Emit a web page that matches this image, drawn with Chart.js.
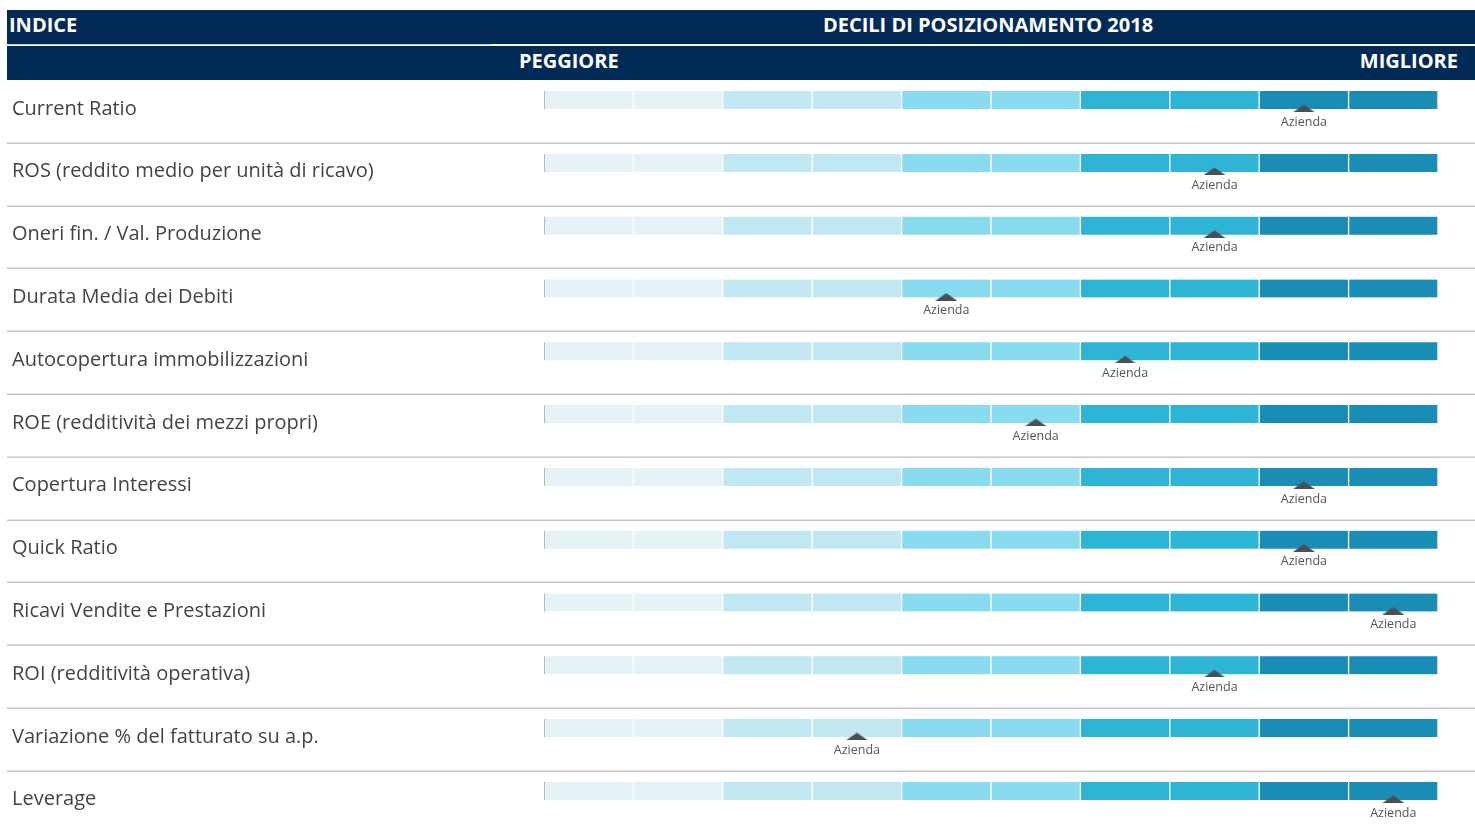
<!DOCTYPE html>
<html>
<head>
<meta charset="utf-8">
<script src="https://cdn.jsdelivr.net/npm/chart.js@4.4.0/dist/chart.umd.min.js"></script>
<style>
  body { margin: 0; background: #fff; font-family: "Open Sans", sans-serif; }
  .hdr { position: absolute; left: 7px; right: 0; height: 34px; background: #022a56; color: #fff;
         font-weight: 700; font-size: 20px; line-height: 30px; }
  .hdr span { position: absolute; top: 0; white-space: nowrap; }
  #wrap { position: absolute; left: 0; top: 80px; width: 1475px; height: 745px; }
</style>
</head>
<body>
<div class="hdr" style="top:10px;">
  <span style="left:2px;">INDICE</span>
  <span style="left:981px;transform:translateX(-50%);">DECILI DI POSIZIONAMENTO 2018</span>
</div>
<div style="position:absolute;left:7px;top:44px;width:485px;height:1px;background:#c9ccd3;"></div>
<div class="hdr" style="top:46px;">
  <span style="left:512px;">PEGGIORE</span>
  <span style="right:17px;">MIGLIORE</span>
</div>
<div id="wrap"><canvas id="deciles"></canvas></div>
<script>
const rowLabels = [
  'Current Ratio',
  'ROS (reddito medio per unità di ricavo)',
  'Oneri fin. / Val. Produzione',
  'Durata Media dei Debiti',
  'Autocopertura immobilizzazioni',
  'ROE (redditività dei mezzi propri)',
  'Copertura Interessi',
  'Quick Ratio',
  'Ricavi Vendite e Prestazioni',
  'ROI (redditività operativa)',
  'Variazione % del fatturato su a.p.',
  'Leverage'
];
// decile (1 = peggiore, 10 = migliore) where the company sits
const companyDeciles = [9, 8, 8, 5, 7, 6, 9, 9, 10, 8, 4, 10];
const decileColors = ['#e5f3f6', '#e5f3f6', '#c1e7f2', '#c1e7f2', '#89dbef',
                      '#89dbef', '#2eb5d6', '#2eb5d6', '#1a8db6', '#1a8db6'];
const markerLabel = 'Azienda';

const rowPitch = 62.8;

// flat triangle used as the marker point style
const tri = document.createElement('canvas');
tri.width = 22; tri.height = 8;
const tctx = tri.getContext('2d');
tctx.fillStyle = '#4b4e53';
tctx.beginPath();
tctx.moveTo(0, 8); tctx.lineTo(11, 0.5); tctx.lineTo(22, 8);
tctx.closePath();
tctx.fill();

const bandSets = decileColors.map((c, d) => ({
  label: 'Decile ' + (d + 1),
  data: rowLabels.map((_, i) => ({ x: [d, d + 1], y: i - 0.18 })),
  backgroundColor: c,
  borderColor: '#ffffff',
  borderWidth: { left: 1, right: 1, top: 0, bottom: 0 },
  borderSkipped: false,
  barThickness: 18,
  grouped: false,
  order: 1
}));

const markerSet = {
  type: 'scatter',
  label: markerLabel,
  data: companyDeciles.map((d, i) => ({ x: d - 0.5, y: i - 0.05 })),
  pointStyle: tri,
  pointRadius: 11,
  order: -1
};

const rowsPlugin = {
  id: 'rows',
  beforeDatasetsDraw(chart) {
    const { ctx, scales: { y } } = chart;
    ctx.save();
    ctx.strokeStyle = '#c6c6c6';
    ctx.lineWidth = 1.5;
    for (let i = 0; i < rowLabels.length - 1; i++) {
      const py = Math.round(y.getPixelForValue(i + 0.5)) + 0.25;
      ctx.beginPath();
      ctx.moveTo(7, py);
      ctx.lineTo(chart.width, py);
      ctx.stroke();
    }
    ctx.restore();
  },
  afterDatasetsDraw(chart) {
    const { ctx, scales: { x, y } } = chart;
    ctx.save();
    // thin grey start mark on each band
    ctx.strokeStyle = '#b9b9b9';
    ctx.lineWidth = 1;
    const x0 = Math.round(x.getPixelForValue(0)) + 0.5;
    rowLabels.forEach((_, i) => {
      const cy = y.getPixelForValue(i - 0.18);
      ctx.beginPath();
      ctx.moveTo(x0, cy - 9);
      ctx.lineTo(x0, cy + 9);
      ctx.stroke();
    });
    // marker caption
    const meta = chart.getDatasetMeta(chart.data.datasets.indexOf(markerSet));
    ctx.fillStyle = '#555555';
    ctx.font = '12.5px "Open Sans"';
    ctx.textAlign = 'center';
    ctx.textBaseline = 'middle';
    meta.data.forEach(pt => ctx.fillText(markerLabel, pt.x, pt.y + 14));
    ctx.restore();
  }
};

new Chart(document.getElementById('deciles'), {
  type: 'bar',
  data: { datasets: [markerSet, ...bandSets] },
  options: {
    indexAxis: 'y',
    responsive: true,
    maintainAspectRatio: false,
    animation: false,
    events: [],
    layout: { autoPadding: false, padding: { left: 12, right: 37, top: 0, bottom: 0 } },
    plugins: { legend: { display: false }, tooltip: { enabled: false } },
    scales: {
      x: { type: 'linear', min: 0, max: 10, display: false, offset: false },
      y: {
        type: 'linear',
        offset: false,
        reverse: true,
        min: -0.5,
        max: -0.5 + 745 / rowPitch,
        afterBuildTicks: s => { s.ticks = rowLabels.map((_, i) => ({ value: i - 0.04 })); },
        afterFit: s => { s.width = 544 - 12; s.paddingTop = 0; s.paddingBottom = 0; },
        ticks: {
          autoSkip: false,
          crossAlign: 'far',
          padding: 0,
          color: '#444444',
          font: { family: 'Open Sans', size: 20 },
          callback: (v, i) => rowLabels[i]
        },
        grid: { display: false, offset: false },
        border: { display: false }
      }
    }
  },
  plugins: [rowsPlugin]
});
</script>
</body>
</html>
